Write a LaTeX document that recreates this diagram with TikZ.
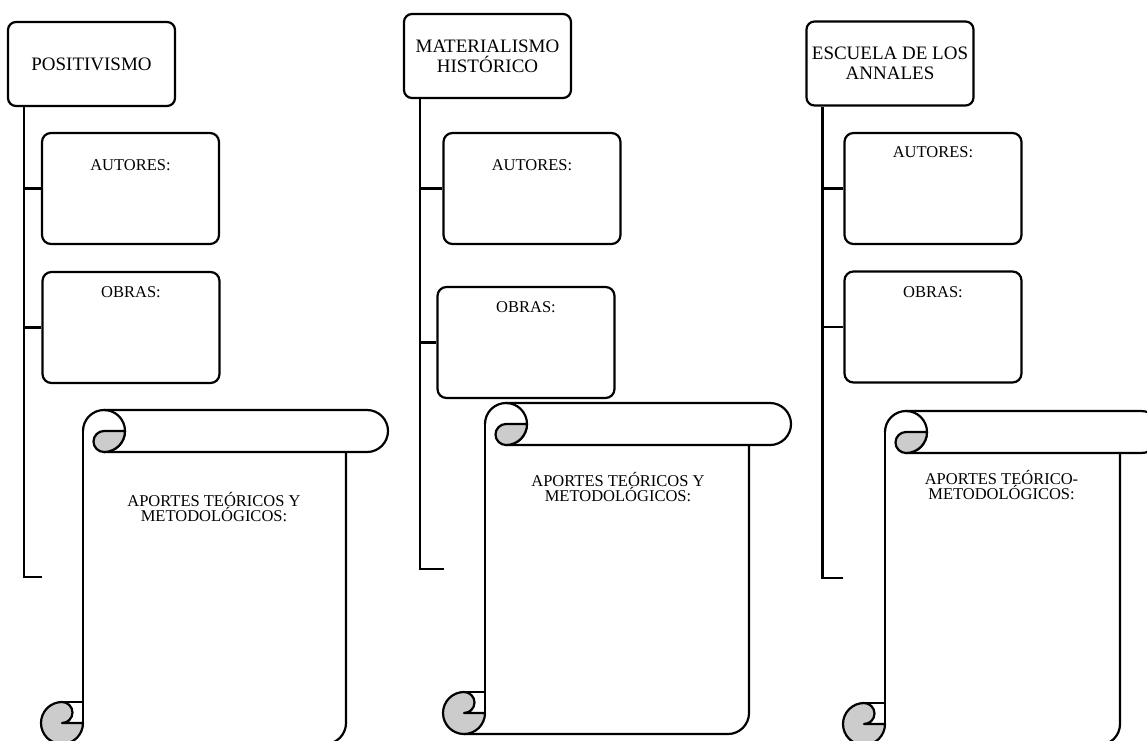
\documentclass[tikz,border=0pt]{standalone}
\usepackage{fontspec}
\setmainfont{Liberation Serif}
\usetikzlibrary{positioning}
\tikzset{
  headbox/.style={draw, rounded corners=8pt, line width=2.2pt, align=center, minimum width=167pt, minimum height=84pt, inner sep=2pt, font=\fontsize{19}{20}\selectfont},
  infobox/.style={draw, rounded corners=9pt, line width=2.2pt, minimum width=177pt, minimum height=111pt},
  fieldlabel/.style={inner sep=0pt, font=\fontsize{16.5}{15}\selectfont},
  scrolltext/.style={align=center, inner sep=0pt, font=\fontsize{16.5}{15}\selectfont},
  tree/.style={line width=2.8pt},
  pics/scroll/.style 2 args={code={
    \begin{scope}[line width=2.2pt, line join=round]
      % body
      \draw (42,-21) -- (42,-#2+21);
      \draw (#1-42,-42) -- (#1-42,-#2+21) arc[start angle=0, end angle=-90, radius=21] -- (21,-#2);
      % top roll
      \draw (42,-21) arc[start angle=180, end angle=-90, radius=21];
      \draw (63,0) -- (#1-21,0) arc[start angle=90, end angle=-90, radius=21] -- (63,-42);
      \filldraw[fill=black!20] (63,-21) -- (84,-21) arc[start angle=0, end angle=-90, radius=21] arc[start angle=-90, end angle=-270, radius=10.5] -- cycle;
      % bottom curl
      \filldraw[fill=black!20] (21,-#2+42) arc[start angle=90, end angle=360, radius=21] -- (21,-#2+21) arc[start angle=-90, end angle=90, radius=10.5] -- cycle;
      \draw (21,-#2+42) -- (42,-#2+42);
    \end{scope}
  }}
}
\begin{document}
\begin{tikzpicture}[x=1pt, y=1pt]
    \useasboundingbox (0,0) rectangle (1147,-740);
    \clip (0,0) rectangle (1147,-740);

    % positivismo
    \node at (91.5, -64) [headbox] (pos) {POSITIVISMO};
    \node at (130.5, -188.5) [infobox] (posA) {};
    \node at (131, -327.5) [infobox] (posO) {};
    \node [fieldlabel, below=27.5pt of posA.north] (posAl) {AUTORES:};
    \node [fieldlabel, below=15.5pt of posO.north] (posOl) {OBRAS:};
    \coordinate (posT) at ([xshift=17pt]pos.south west);
    \coordinate (posE) at (42, -577);
    \pic (posS) at (41, -410) {scroll={347}{334}};
    \node at (214, -507) [scrolltext] (posSl) {APORTES TEÓRICOS Y\\METODOLÓGICOS:};

    % materialismo
    \node at (487.5, -56) [headbox] (mat) {MATERIALISMO\\HISTÓRICO};
    \node at (532, -188.5) [infobox] (matA) {};
    \node at (526, -342.5) [infobox] (matO) {};
    \node [fieldlabel, below=27.5pt of matA.north] (matAl) {AUTORES:};
    \node [fieldlabel, below=15.5pt of matO.north] (matOl) {OBRAS:};
    \coordinate (matT) at ([xshift=17pt]mat.south west);
    \coordinate (matE) at (444, -569);
    \pic (matS) at (443, -403) {scroll={348}{331}};
    \node at (618, -487) [scrolltext] (matSl) {APORTES TEÓRICOS Y\\METODOLÓGICOS:};

    % annales
    \node at (890, -63.5) [headbox] (esc) {ESCUELA DE LOS\\ANNALES};
    \node at (933, -188.5) [infobox] (escA) {};
    \node at (933, -327) [infobox] (escO) {};
    \node [fieldlabel, below=14.5pt of escA.north] (escAl) {AUTORES:};
    \node [fieldlabel, below=15.5pt of escO.north] (escOl) {OBRAS:};
    \coordinate (escT) at ([xshift=17pt]esc.south west);
    \coordinate (escE) at (843, -578);
    \pic (escS) at (843, -411) {scroll={319}{334}};
    \node at (1001.5, -485) [scrolltext] (escSl) {APORTES TEÓRICO-\\METODOLÓGICOS:};

    \draw[tree] (posT) |- (posE);
    \draw[tree] (posA.west) -- (posA.west -| posT);
    \draw[tree] (posO.west) -- (posO.west -| posT);
    \draw[tree] (matT) |- (matE);
    \draw[tree] (matA.west) -- (matA.west -| matT);
    \draw[tree] (matO.west) -- (matO.west -| matT);
    \draw[tree] (escT) |- (escE);
    \draw[tree] (escA.west) -- (escA.west -| escT);
    \draw[tree] (escO.west) -- (escO.west -| escT);
\end{tikzpicture}
\end{document}
